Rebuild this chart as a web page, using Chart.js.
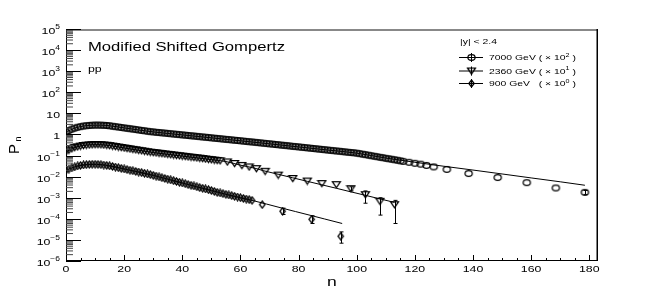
<!DOCTYPE html>
<html>
<head>
<meta charset="utf-8">
<script src="https://cdn.jsdelivr.net/npm/chart.js@4.4.0/dist/chart.umd.min.js"></script>
<style>
  body { margin: 0; background: #fff; }
  #wrap { width: 664px; height: 291px; }
</style>
</head>
<body>
<div id="wrap"><canvas id="mult" width="664" height="291"></canvas></div>
<script>
// Multiplicity distributions, values as plotted (already scaled by the legend factors)
// dense part: index = n
const p7000 = [1.3, 1.55, 1.8, 2.0, 2.2, 2.35, 2.5, 2.6, 2.68, 2.74,
    2.77, 2.78, 2.76, 2.72, 2.66, 2.58, 2.46, 2.35, 2.25, 2.15,
    2.05, 1.96, 1.87, 1.79, 1.71, 1.63, 1.56, 1.49, 1.42, 1.36,
    1.32, 1.27, 1.23, 1.19, 1.16, 1.12, 1.08, 1.05, 1.02, 0.985,
    0.954, 0.924, 0.894, 0.866, 0.839, 0.812, 0.786, 0.761, 0.737, 0.714,
    0.691, 0.669, 0.648, 0.627, 0.607, 0.588, 0.569, 0.551, 0.534, 0.517,
    0.500, 0.485, 0.469, 0.454, 0.440, 0.426, 0.412, 0.398, 0.385, 0.372,
    0.360, 0.348, 0.336, 0.325, 0.314, 0.304, 0.294, 0.284, 0.274, 0.265,
    0.256, 0.248, 0.240, 0.232, 0.224, 0.216, 0.209, 0.202, 0.196, 0.189,
    0.183, 0.177, 0.171, 0.165, 0.160, 0.154, 0.149, 0.144, 0.139, 0.135,
    0.130, 0.123, 0.116, 0.110, 0.104, 0.098, 0.093, 0.088, 0.083, 0.079,
    0.074, 0.070, 0.067, 0.063, 0.060, 0.056, 0.053];
const tail7000N = [118, 120, 122, 124, 126.5, 131, 138.5, 148.5, 158.5, 168.5, 178.5];
const tail7000P = [0.048, 0.043, 0.039, 0.034, 0.029, 0.022, 0.014, 0.0091, 0.0052, 0.0029, 0.0018];

const p2360 = [0.15, 0.18, 0.21, 0.24, 0.26, 0.28, 0.30, 0.31, 0.32, 0.325,
    0.33, 0.33, 0.325, 0.318, 0.308, 0.296, 0.281, 0.267, 0.254, 0.241,
    0.229, 0.218, 0.207, 0.197, 0.187, 0.178, 0.169, 0.160, 0.152, 0.145,
    0.139, 0.134, 0.129, 0.124, 0.119, 0.115, 0.110, 0.106, 0.102, 0.098,
    0.094, 0.091, 0.087, 0.084, 0.081, 0.078, 0.075, 0.072, 0.069, 0.066,
    0.064, 0.061, 0.059, 0.057];
const tail2360N = [55.5, 58, 60.5, 63, 65.5, 68.5, 73, 78, 83, 88, 93, 98, 103, 108, 113];
const tail2360P = [0.050, 0.042, 0.034, 0.029, 0.024, 0.018, 0.0118, 0.0082, 0.0062, 0.0047, 0.0042, 0.0027, 0.0014, 0.00068, 0.00047];

const p900 = [0.020, 0.023, 0.026, 0.029, 0.032, 0.034, 0.036, 0.037, 0.038, 0.0385,
    0.0385, 0.038, 0.037, 0.0355, 0.034, 0.0325, 0.0304, 0.0284, 0.0265, 0.0248,
    0.0231, 0.0216, 0.0202, 0.0189, 0.0176, 0.0165, 0.0154, 0.0144, 0.0134, 0.0125,
    0.0115, 0.0106, 0.0097, 0.0089, 0.0082, 0.0076, 0.0070, 0.0064, 0.0059, 0.0054,
    0.0050, 0.0046, 0.0042, 0.0039, 0.0036, 0.0033, 0.0030, 0.0028, 0.0026, 0.0024,
    0.0022, 0.0020, 0.0018, 0.00168, 0.00156, 0.00145, 0.00135, 0.00125, 0.00116, 0.00108,
    0.00100, 0.00093, 0.00087, 0.00081, 0.00075];
const tail900N = [67.5, 74.5, 84.5, 94.5];
const tail900P = [0.00047, 0.00023, 0.000095, 0.000015];

// error bars: [n, low, high]
const err7000 = [[178.5, 0.0014, 0.0022]];
const err2360 = [[98, 0.0021, 0.0033], [103, 0.00055, 0.0021], [108, 0.00015, 0.001], [113, 0.00006, 0.00075]];
const err900 = [[74.5, 0.00016, 0.00032], [84.5, 0.00006, 0.00014], [94.5, 0.000007, 0.000024]];

// Modified shifted Gompertz fits
const fit7000N = [0, 3, 6, 9, 12, 15, 20, 30, 40, 50, 60, 70, 80, 90, 100, 110, 120, 130, 140, 150, 160, 170, 178.5];
const fit7000P = [1.3, 2.0, 2.5, 2.74, 2.76, 2.58, 2.05, 1.32, 0.954, 0.691, 0.50, 0.36, 0.256, 0.183, 0.13, 0.076, 0.048, 0.031, 0.0205, 0.0134, 0.0087, 0.0057, 0.0039];
const fit2360N = [0, 3, 6, 9, 12, 15, 20, 30, 40, 50, 55, 60, 65, 68, 73, 78, 83, 88, 93, 98, 103, 108, 113];
const fit2360P = [0.15, 0.24, 0.30, 0.325, 0.325, 0.296, 0.229, 0.139, 0.094, 0.064, 0.052, 0.035, 0.025, 0.019, 0.0129, 0.0088, 0.006, 0.0041, 0.0028, 0.0019, 0.0013, 0.00088, 0.0006];
const fit900N = [0, 3, 6, 9, 12, 15, 20, 25, 30, 35, 40, 45, 50, 55, 60, 64, 69, 74, 79, 84, 89, 95];
const fit900P = [0.02, 0.029, 0.036, 0.0385, 0.037, 0.0325, 0.0231, 0.0165, 0.0115, 0.0076, 0.005, 0.0033, 0.0022, 0.00145, 0.001, 0.00075, 0.0005, 0.00033, 0.00022, 0.000147, 0.000098, 0.00006];

const xMajorTicks = [0, 20, 40, 60, 80, 100, 120, 140, 160, 180];
const yTickExp = [-6, -5, -4, -3, -2, -1, 0, 1, 2, 3, 4, 5];
const legendRows = [
    { label: '7000 GeV ( \u00d7 10', exp: '2', marker: 'circle' },
    { label: '2360 GeV ( \u00d7 10', exp: '1', marker: 'tri' },
    { label: '900 GeV   ( \u00d7 10', exp: '0', marker: 'diamond' }
];

const SX = 1.3;   // the original picture is stretched horizontally
const FONT = '"Liberation Sans", Arial, sans-serif';

function makeMarker(kind) {
    const c = document.createElement('canvas');
    c.width = 11; c.height = 9;
    const g = c.getContext('2d');
    g.strokeStyle = '#000';
    g.lineWidth = 1.25;
    g.beginPath();
    if (kind === 'circle') {
        g.ellipse(5.5, 4.5, 3.6, 2.8, 0, 0, Math.PI * 2);
    } else if (kind === 'tri') {
        g.moveTo(1.5, 1.5); g.lineTo(9.5, 1.5); g.lineTo(5.5, 7.5); g.closePath();
    } else {
        g.moveTo(5.5, 1); g.lineTo(8.2, 4.5); g.lineTo(5.5, 8); g.lineTo(2.8, 4.5); g.closePath();
    }
    g.stroke();
    return c;
}
const markers = { circle: makeMarker('circle'), tri: makeMarker('tri'), diamond: makeMarker('diamond') };

function pts(ns, ps) { return ns.map((n, i) => ({ x: n, y: ps[i] })); }
function dense(ps) { return ps.map((p, n) => ({ x: n, y: p })); }

function dataSet(data, marker) {
    return { type: 'line', data: data, showLine: false, pointStyle: markers[marker], pointRadius: 4, borderColor: '#000', backgroundColor: 'rgba(0,0,0,0)' };
}
function fitSet(data) {
    return { type: 'line', data: data, borderColor: '#000', borderWidth: 1, pointRadius: 0, cubicInterpolationMode: 'monotone', fill: false };
}

function drawParts(ctx, parts, x, y, align) {
    const widths = parts.map(p => { ctx.font = p.size + 'px ' + FONT; return ctx.measureText(p.t).width * SX; });
    const total = widths.reduce((a, b) => a + b, 0);
    let cx = align === 'right' ? x - total : align === 'center' ? x - total / 2 : x;
    parts.forEach((p, i) => {
        ctx.save();
        ctx.translate(cx, y + (p.dy || 0));
        ctx.scale(SX, 1);
        ctx.font = p.size + 'px ' + FONT;
        ctx.fillStyle = '#000';
        ctx.textAlign = 'left';
        ctx.textBaseline = 'middle';
        ctx.fillText(p.t, 0, 0);
        ctx.restore();
        cx += widths[i];
    });
}

const rootFrame = {
    id: 'rootFrame',
    afterDatasetsDraw(chart) {
        const { ctx, chartArea: a, scales: { x, y } } = chart;
        ctx.save();

        // error bars
        ctx.strokeStyle = '#000';
        ctx.lineWidth = 1;
        [err7000, err2360, err900].forEach(list => list.forEach(([n, lo, hi]) => {
            const px = Math.round(x.getPixelForValue(n)) + 0.5;
            const y1 = y.getPixelForValue(lo), y2 = y.getPixelForValue(hi);
            ctx.beginPath();
            ctx.moveTo(px, y1); ctx.lineTo(px, y2);
            ctx.moveTo(px - 2, y1); ctx.lineTo(px + 2, y1);
            ctx.moveTo(px - 2, y2); ctx.lineTo(px + 2, y2);
            ctx.stroke();
        }));

        // frame
        ctx.strokeStyle = '#888';
        ctx.lineWidth = 2;
        ctx.beginPath(); ctx.moveTo(a.left, a.top + 1); ctx.lineTo(a.right, a.top + 1); ctx.stroke();
        ctx.strokeStyle = '#000';
        ctx.lineWidth = 1.5;
        ctx.beginPath(); ctx.moveTo(a.right - 0.75, a.top); ctx.lineTo(a.right - 0.75, a.bottom); ctx.stroke();
        ctx.lineWidth = 1;
        ctx.beginPath();
        ctx.moveTo(a.left + 0.5, a.top); ctx.lineTo(a.left + 0.5, a.bottom);
        ctx.moveTo(a.left, a.bottom - 0.5); ctx.lineTo(a.right, a.bottom - 0.5);
        ctx.stroke();

        // y ticks (log): majors and 2..9 minors
        yTickExp.forEach(e => {
            const py = Math.round(y.getPixelForValue(Math.pow(10, e))) + 0.5;
            ctx.strokeStyle = '#000';
            ctx.beginPath(); ctx.moveTo(a.left, py); ctx.lineTo(a.left + 15, py); ctx.stroke();
            if (e < 5) {
                ctx.strokeStyle = '#444';
                for (let m = 2; m <= 9; m++) {
                    const my = y.getPixelForValue(m * Math.pow(10, e));
                    ctx.beginPath(); ctx.moveTo(a.left, my); ctx.lineTo(a.left + 7, my); ctx.stroke();
                }
            }
            let parts;
            if (e === 0) parts = [{ t: '1', size: 9.5 }];
            else if (e === 1) parts = [{ t: '10', size: 9.5 }];
            else parts = [{ t: '10', size: 9.5 }, { t: (e < 0 ? '\u2212' : '') + Math.abs(e), size: 6.5, dy: -4 }];
            drawParts(ctx, parts, 60, py + 1.5, 'right');
        });

        // x ticks
        ctx.strokeStyle = '#000';
        for (let n = 0; n <= 180; n += 5) {
            const px = Math.round(x.getPixelForValue(n)) + 0.5;
            const len = n % 20 === 0 ? 6 : 3;
            ctx.beginPath(); ctx.moveTo(px, a.bottom); ctx.lineTo(px, a.bottom - len); ctx.stroke();
        }
        xMajorTicks.forEach(n => drawParts(ctx, [{ t: String(n), size: 9.5 }], x.getPixelForValue(n), 269, 'center'));

        // axis titles
        drawParts(ctx, [{ t: 'n', size: 13.5 }], 332, 282, 'center');
        ctx.save();
        ctx.translate(15, 149);
        ctx.rotate(-Math.PI / 2);
        ctx.font = '15px ' + FONT;
        ctx.fillStyle = '#000';
        ctx.textAlign = 'center';
        ctx.textBaseline = 'middle';
        ctx.fillText('P', 0, 0);
        ctx.font = '9px ' + FONT;
        ctx.fillText('n', 10, 4);
        ctx.restore();

        // texts inside the frame
        drawParts(ctx, [{ t: 'Modified Shifted Gompertz', size: 12.8 }], 88, 47, 'left');
        drawParts(ctx, [{ t: 'pp', size: 9.5 }], 88, 69, 'left');

        // legend
        drawParts(ctx, [{ t: '|y| < 2.4', size: 8 }], 460, 42, 'left');
        const rowY = [57, 70.5, 83];
        legendRows.forEach((r, i) => {
            const ly = rowY[i];
            ctx.strokeStyle = '#000';
            ctx.beginPath();
            ctx.moveTo(459, ly + 0.5); ctx.lineTo(483, ly + 0.5);
            ctx.moveTo(471.5, ly - 4); ctx.lineTo(471.5, ly + 5);
            ctx.stroke();
            const mk = markers[r.marker];
            ctx.drawImage(mk, 471.5 - mk.width / 2, ly + 0.5 - mk.height / 2);
            drawParts(ctx, [{ t: r.label, size: 8 }, { t: r.exp, size: 5.5, dy: -3 }, { t: ' )', size: 8 }], 489, ly + 1, 'left');
        });
        ctx.restore();
    }
};

new Chart(document.getElementById('mult').getContext('2d'), {
    type: 'line',
    data: {
        datasets: [
            fitSet(pts(fit7000N, fit7000P)),
            fitSet(pts(fit2360N, fit2360P)),
            fitSet(pts(fit900N, fit900P)),
            dataSet(dense(p7000).concat(pts(tail7000N, tail7000P)), 'circle'),
            dataSet(dense(p2360).concat(pts(tail2360N, tail2360P)), 'tri'),
            dataSet(dense(p900).concat(pts(tail900N, tail900P)), 'diamond')
        ]
    },
    options: {
        responsive: false,
        animation: false,
        events: [],
        layout: { padding: { left: 66, right: 66, top: 29, bottom: 30 } },
        scales: {
            x: { type: 'linear', min: 0, max: 183, display: false },
            y: { type: 'logarithmic', min: 1e-6, max: 1e5, display: false }
        },
        plugins: { legend: { display: false }, tooltip: { enabled: false } }
    },
    plugins: [rootFrame]
});
</script>
</body>
</html>
